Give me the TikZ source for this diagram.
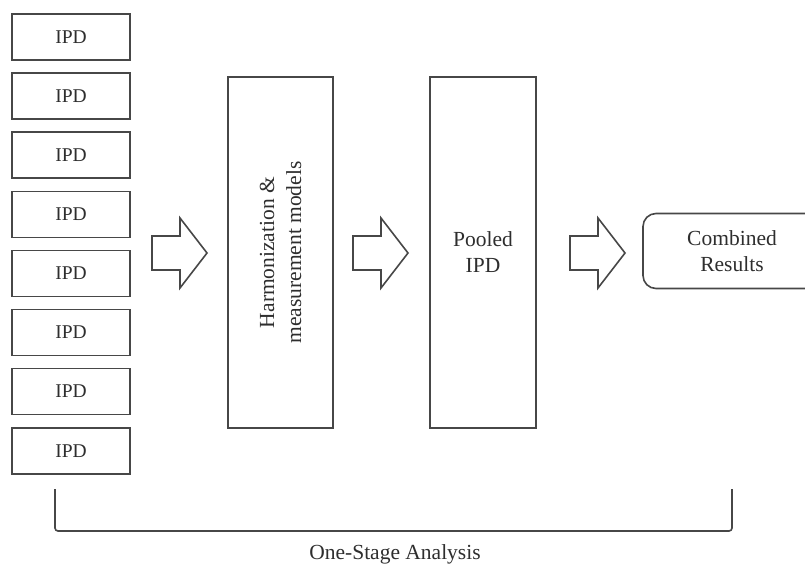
\documentclass[tikz,border=0pt]{standalone}
\usepackage{fontspec}
\setmainfont{Liberation Serif}
\begin{document}
\begin{tikzpicture}[x=1pt,y=-1pt,
  ink/.style={draw=black!72, line width=1.6pt},
  txt/.style={text=black!82, font=\fontsize{21.5}{26}\selectfont, align=center},
  ipdbox/.style={ink, txt, font=\fontsize{19.5}{24}\selectfont, minimum width=118pt, minimum height=46pt, inner sep=0pt},
  tallbox/.style={ink, txt, minimum height=351pt, inner sep=0pt},
  bigarrow/.style={ink, line join=miter, fill=white}
]
\useasboundingbox (0,0) rectangle (805,565);
\fill[white] (0,0) rectangle (805,565);

% column of individual participant data sets
\foreach \i in {0,...,7}
  \node[ipdbox] (ipd\i) at (71, 37+59.1*\i) {IPD};

% processing stages
\node[tallbox, minimum width=105pt] (harm) at (280.5,252.5) {};
\node[txt, rotate=90, font=\fontsize{21.5}{27}\selectfont] (harmtxt) at (harm.center) {Harmonization \&\\measurement models};
\node[tallbox, minimum width=106pt] (pool) at (483,252.5) {Pooled\\IPD};
\node[ink, txt, rounded corners=13pt, minimum width=178pt, minimum height=75pt, inner sep=0pt] (res) at (732,251) {Combined\\Results};

% block arrows between the stages
\foreach \x/\n in {152/a1, 353/a2, 570/a3}{
  \coordinate (\n) at (\x,253);
  \draw[bigarrow] (\n) ++(0,-17) -- ++(28,0) -- ++(0,-18) -- ++(27,35)
        -- ++(-27,35) -- ++(0,-18) -- ++(-28,0) -- cycle;
}

% bracket spanning the whole pipeline
\coordinate (bl) at (55,489);
\coordinate (br) at (732,489);
\draw[ink, rounded corners=3pt] (bl) -- (55,531) -- (732,531) -- (br);
\node[txt, anchor=base] (stage) at (395,559) {One-Stage Analysis};
\end{tikzpicture}
\end{document}
